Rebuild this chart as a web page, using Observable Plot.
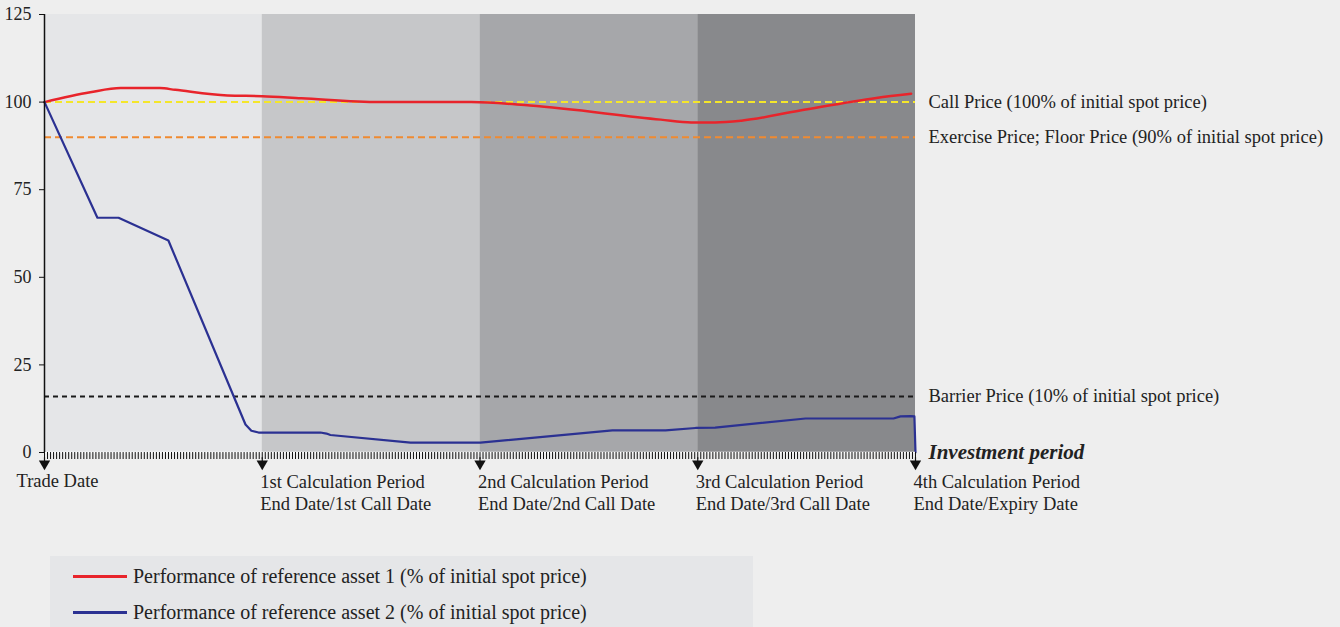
<!DOCTYPE html>
<html>
<head>
<meta charset="utf-8">
<script src="https://cdn.jsdelivr.net/npm/d3@7"></script>
<script src="https://cdn.jsdelivr.net/npm/@observablehq/plot@0.6"></script>
<style>
  html, body { margin: 0; padding: 0; background: #eeeeee; }
  body { width: 1340px; height: 627px; overflow: hidden; position: relative; font-family: "Liberation Serif", "DejaVu Serif", serif; }
  #chart svg { display: block; }
  #legend { position: absolute; left: 50px; top: 556px; width: 703px; height: 80px; background: #e5e6e8; }
  .row { position: absolute; left: 0; height: 22px; font-size: 20px; color: #222; }
  .row .sw { position: absolute; left: 23px; top: 10px; width: 54px; height: 2.5px; }
  .row .tx { position: absolute; left: 83px; top: 0; white-space: nowrap; line-height: 22px; }
</style>
</head>
<body>
<div id="chart"></div>
<div id="legend"></div>
<script>
// ---- data ----
const periodStarts = [0, 1, 2, 3];
const periodEnds = [1, 2, 3, 4];
const bandColors = ["#e5e6e8", "#c6c7c9", "#a6a7aa", "#88898c"];

const dateTicks = [0, 1, 2, 3, 4];
const dateLabels = [
  "Trade Date",
  "1st Calculation Period\nEnd Date/1st Call Date",
  "2nd Calculation Period\nEnd Date/2nd Call Date",
  "3rd Calculation Period\nEnd Date/3rd Call Date",
  "4th Calculation Period\nEnd Date/Expiry Date"
];

const asset1X = [0, 0.21, 0.35, 0.53, 0.6, 0.84, 1.0, 1.18, 1.54, 1.96, 2.23, 2.83, 2.97, 3.08, 3.2, 3.47, 3.82, 3.98];
const asset1Y = [100, 102.8, 104, 104, 103.5, 101.9, 101.7, 101.1, 100, 100, 99, 95, 94.2, 94.2, 94.7, 97.6, 101.2, 102.4];

const asset2X = [0, 0.243, 0.34, 0.569, 0.923, 0.95, 0.983, 1.267, 1.295, 1.313, 1.681, 2.002, 2.608, 2.852, 2.99, 3.08, 3.495, 3.899, 3.931, 3.977, 3.995, 4.0];
const asset2Y = [100, 67, 67, 60.5, 8, 6.2, 5.7, 5.7, 5.4, 5.0, 2.8, 2.8, 6.3, 6.3, 7.0, 7.1, 9.7, 9.7, 10.3, 10.4, 10.3, 0];

const levelValues = [100, 90, 16];
const levelLabels = [
  "Call Price (100% of initial spot price)",
  "Exercise Price; Floor Price (90% of initial spot price)",
  "Barrier Price (10% of initial spot price)"
];
const levelColors = ["#f4e62a", "#f08a30", "#1a1a1a"];
const levelDash = ["7,4", "7,4", "5,4"];

const yTicks = [0, 25, 50, 75, 100, 125];
const seriesNames = [
  "Performance of reference asset 1 (% of initial spot price)",
  "Performance of reference asset 2 (% of initial spot price)"
];
const seriesColors = ["#e8242b", "#2b3192"];
const axisTitle = "Investment period";
const minorPerPeriod = 72;

// ---- build ----
const bands = periodStarts.map((s, i) => ({x1: s, x2: periodEnds[i], fill: bandColors[i]}));
const dates = dateTicks.map((t, i) => ({x: t, label: dateLabels[i]}));
const a1 = asset1X.map((x, i) => ({x, y: asset1Y[i]}));
const a2 = asset2X.map((x, i) => ({x, y: asset2Y[i]}));
const levels = levelValues.map((v, i) => ({y: v, label: levelLabels[i], color: levelColors[i], dash: levelDash[i]}));
const minorTicks = d3.range(0, 4 * minorPerPeriod + 1).map(i => i / minorPerPeriod);

const font = "'Liberation Serif', 'DejaVu Serif', serif";

const chart = Plot.plot({
  width: 1340,
  height: 540,
  marginLeft: 44,
  marginRight: 425,
  marginTop: 14,
  marginBottom: 88,
  style: {background: "transparent", fontFamily: font, fontSize: "18.5px", color: "#222"},
  x: {domain: [0, 4], axis: null},
  y: {domain: [0, 125], axis: null},
  marks: [
    Plot.rect(bands, {x1: "x1", x2: "x2", y1: 0, y2: 125, fill: "fill"}),
    // levels
    ...levels.map(l => Plot.ruleY([l], {y: "y", stroke: l.color, strokeWidth: 2, strokeDasharray: l.dash})),
    Plot.text(levels, {x: 4, y: "y", text: "label", textAnchor: "start", dx: 13, fill: "#222", fontSize: 18.5}),
    // series
    Plot.line(a1, {x: "x", y: "y", stroke: seriesColors[0], strokeWidth: 2.5, curve: "monotone-x"}),
    Plot.line(a2, {x: "x", y: "y", stroke: seriesColors[1], strokeWidth: 2.2, strokeLinejoin: "round"}),
    // x axis baseline and minor ticks
    Plot.ruleY([0], {stroke: "#ffffff", strokeWidth: 1.5}),
    Plot.axisX({ticks: minorTicks, tickSize: 7, tickFormat: () => "", anchor: "bottom", label: null, stroke: "#111", strokeWidth: 1}),
    // date arrows
    Plot.ruleX(dates, {x: "x", y1: -1.5, y2: -2.6, stroke: "#111", strokeWidth: 1.2}),
    Plot.dot(dates, {x: "x", y: -3.2, symbol: "triangle", rotate: 180, r: 4.2, fill: "#111", stroke: null}),
    Plot.text(dates.slice(0, 1), {x: "x", y: 0, text: "label", textAnchor: "start", lineAnchor: "top", dx: -28, dy: 21, fill: "#222", fontSize: 18.5}),
    Plot.text(dates.slice(1), {x: "x", y: 0, text: "label", textAnchor: "start", lineAnchor: "top", dx: -2, dy: 21, lineHeight: 1.14, fill: "#222", fontSize: 18.5}),
    Plot.text([axisTitle], {x: 4, y: 0, text: d => d, textAnchor: "start", dx: 13, fontWeight: "bold", fontStyle: "italic", fontSize: 21, fill: "#222"}),
    // y axis
    Plot.ruleX([0], {stroke: "#111", strokeWidth: 1.5}),
    Plot.axisY({ticks: yTicks, tickSize: 5, tickPadding: 8, anchor: "left", label: null, stroke: "#111", fontSize: 18, fill: "#222"})
  ]
});
document.getElementById("chart").appendChild(chart);

// legend
const legend = document.getElementById("legend");
seriesNames.forEach((name, i) => {
  const row = document.createElement("div");
  row.className = "row";
  row.style.top = (9 + i * 36) + "px";
  row.innerHTML = `<div class="sw" style="background:${seriesColors[i]}"></div><div class="tx">${name}</div>`;
  legend.appendChild(row);
});
</script>
</body>
</html>
